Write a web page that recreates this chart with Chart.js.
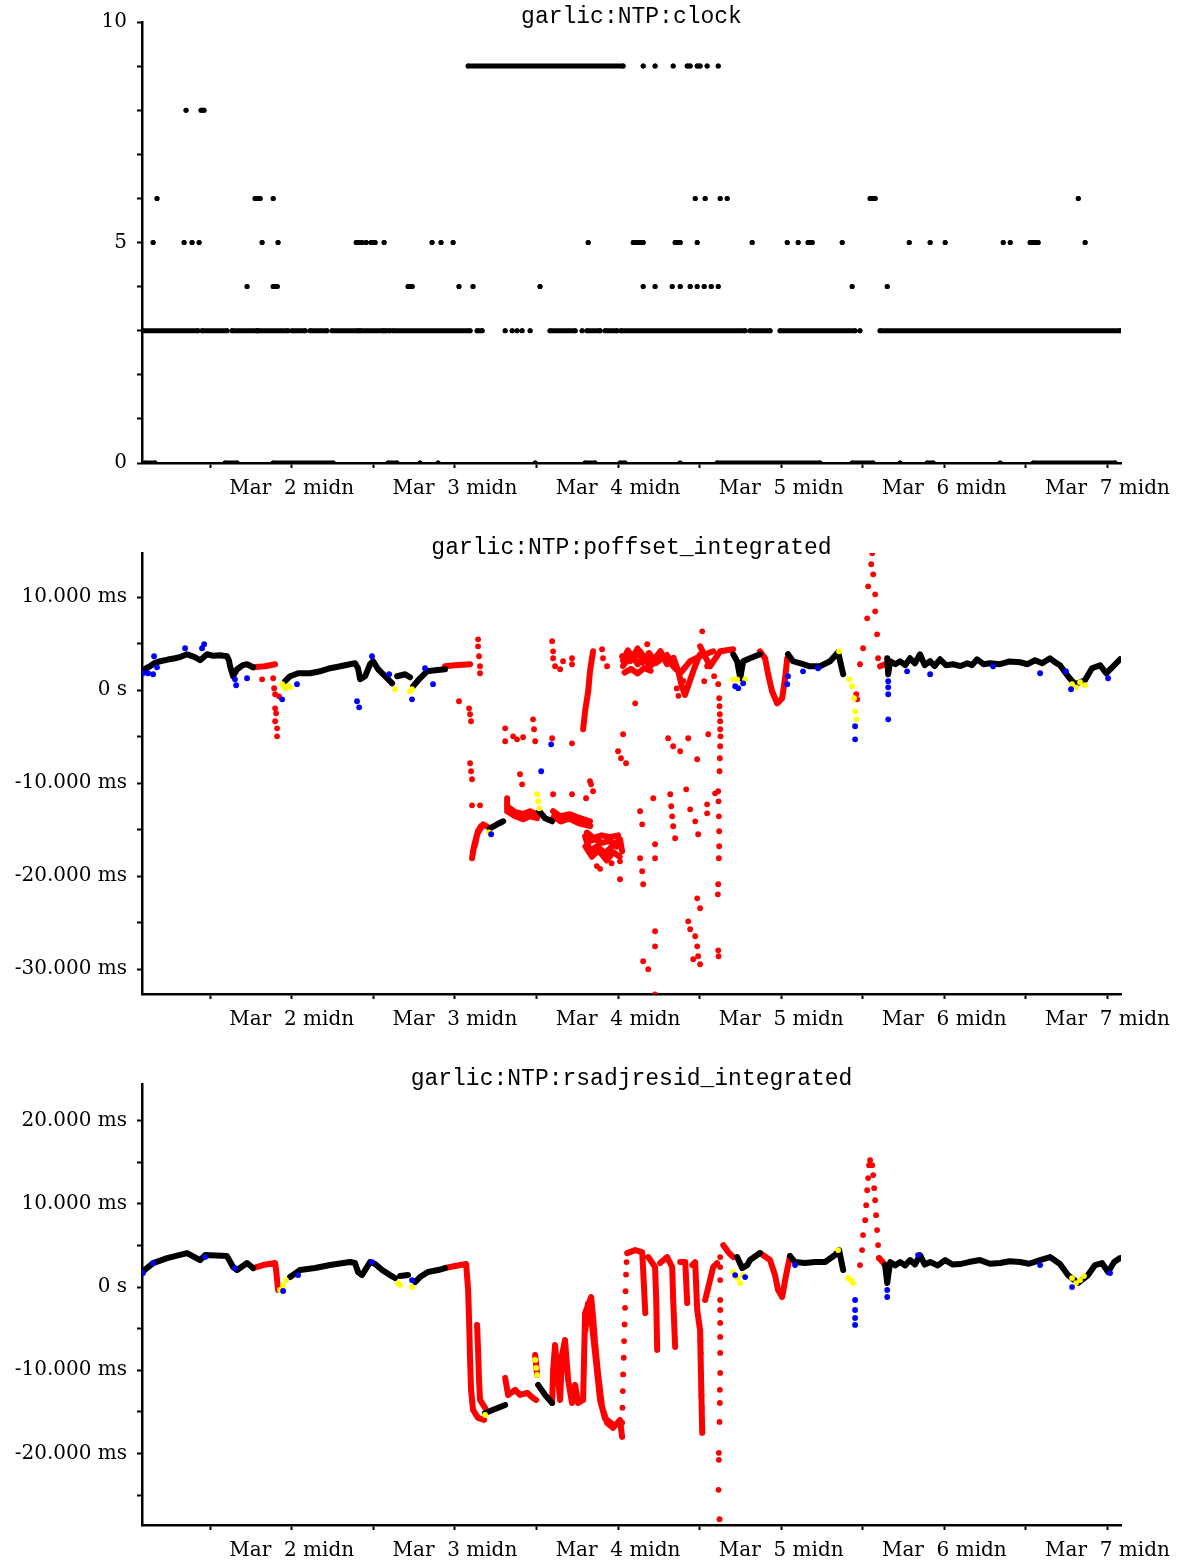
<!DOCTYPE html>
<html>
<head>
<meta charset="utf-8">
<script src="https://cdn.jsdelivr.net/npm/chart.js@4.4.1/dist/chart.umd.min.js"></script>
<style>
  body { margin: 0; background: #fff; }
  .panel { position: absolute; left: 0; width: 1187px; height: 531px; }
</style>
</head>
<body>
<div class="panel" style="top:0"><canvas id="clock" width="1187" height="531"></canvas></div>
<div class="panel" style="top:531px"><canvas id="poffset" width="1187" height="531"></canvas></div>
<div class="panel" style="top:1062px"><canvas id="resid" width="1187" height="531"></canvas></div>
<script>
// x is days since Mar 1 00:00
const xMin = 0.082, xMax = 6.083;
const xTicks = [0.5, 1, 1.5, 2, 2.5, 3, 3.5, 4, 4.5, 5, 5.5, 6];
const xTickLabels = ['', 'Mar  2 midn', '', 'Mar  3 midn', '', 'Mar  4 midn', '', 'Mar  5 midn', '', 'Mar  6 midn', '', 'Mar  7 midn'];

// ---- garlic:NTP:clock ----  entries are a single time or a [start, end] run
const clockTicks = [0, 1, 2, 3, 4, 5, 6, 7, 8, 9, 10];
const clockTickLabels = ['0', '', '', '', '', '5', '', '', '', '', '10'];
const clock0 = [[0.101, 0.162], [0.591, 0.665], [0.886, 1.254], [1.590, 1.645], 1.786, 1.897, 2.492, [2.798, 2.859], [3.012, 3.043], 3.380, [3.607, 4.238], [4.435, 4.563], 4.729, [4.895, 4.932], 5.342, [5.545, 6.047]];
const clock3 = [[0.082, 0.425], [0.450, 0.603], [0.634, 0.787], [0.793, 0.977], [1.002, 1.082], [1.112, 1.216], [1.247, 1.406], [1.419, 1.560], [1.572, 1.602], [1.621, 2.093], [2.136, 2.167], 2.308, 2.351, 2.381, 2.412, 2.461, [2.583, 2.737], 2.780, [2.810, 2.890], [2.921, 2.994], [3.018, 3.779], [3.809, 3.932], [3.993, 4.453], 4.483, [4.606, 6.077]];
const clock4 = [0.726, [0.886, 0.911], [1.713, 1.738], 2.025, 2.111, 2.522, 3.154, 3.227, 3.332, 3.381, 3.442, 3.485, 3.528, 3.571, 3.614, 4.435, 4.650];
const clock5 = [0.150, 0.340, 0.389, 0.432, 0.818, 0.916, [1.395, 1.431], 1.456, [1.486, 1.511], 1.566, 1.860, 1.915, 1.989, 2.817, [3.093, 3.154], [3.350, 3.381], 3.485, 3.822, 4.037, 4.104, [4.165, 4.190], 4.374, 4.785, 4.913, 5.005, 5.361, 5.404, [5.526, 5.575], 5.863];
const clock6 = [0.174, [0.775, 0.806], 0.886, 3.473, 3.534, 3.626, 3.669, [4.545, 4.576], 5.821];
const clock8 = [0.352, [0.444, 0.462]];
const clock9 = [[2.081, 3.031], 3.154, 3.227, 3.338, [3.424, 3.442], [3.485, 3.503], 3.546, 3.614];

// ---- garlic:NTP:poffset_integrated (ms) ----
const poffTicks = [-30, -25, -20, -15, -10, -5, 0, 5, 10];
const poffTickLabels = ['-30.000 ms', '', '-20.000 ms', '', '-10.000 ms', '', '0 s', '', '10.000 ms'];
const poffBlack = [
  [[0.082, 2.04], [0.110, 2.40], [0.131, 2.58], [0.160, 2.95], [0.193, 3.12], [0.240, 3.30], [0.285, 3.44], [0.320, 3.60], [0.358, 3.87], [0.385, 3.70], [0.407, 3.55], [0.438, 3.23], [0.481, 3.87], [0.520, 3.70], [0.560, 3.76], [0.603, 3.66], [0.615, 3.20], [0.622, 2.58], [0.640, 1.51], [0.665, 2.26], [0.700, 2.70], [0.726, 2.80], [0.763, 2.47]],
  [[0.959, 0.97], [0.990, 1.51], [1.039, 1.83], [1.112, 1.83], [1.173, 2.04], [1.235, 2.37], [1.290, 2.55], [1.327, 2.69], [1.388, 2.90], [1.406, 2.37], [1.419, 1.18], [1.450, 1.51], [1.480, 2.80], [1.499, 3.12], [1.529, 2.26], [1.572, 1.51], [1.615, 0.75]],
  [[1.646, 1.51], [1.695, 1.72], [1.725, 1.40]],
  [[1.744, 0.43], [1.786, 1.29], [1.829, 2.04], [1.879, 2.15], [1.940, 2.26]],
  [[2.215, -14.84], [2.259, -14.41], [2.296, -14.09]],
  [[2.517, -13.01], [2.553, -13.76], [2.596, -14.09]],
  [[3.706, 3.87], [3.730, 3.12], [3.749, 1.29], [3.767, 3.12], [3.809, 3.44], [3.870, 3.87]],
  [[4.042, 3.87], [4.073, 3.12], [4.134, 2.80], [4.177, 2.58], [4.238, 2.58], [4.300, 3.12], [4.349, 4.09], [4.380, 1.72]],
  [[4.650, 3.44], [4.656, 1.72], [4.668, 3.12], [4.700, 2.80], [4.729, 3.12], [4.760, 2.70], [4.790, 3.44], [4.820, 2.90], [4.851, 3.87], [4.880, 2.70], [4.913, 3.12], [4.940, 2.60], [4.974, 3.33], [5.010, 2.70], [5.054, 2.80], [5.100, 2.60], [5.140, 2.90], [5.170, 2.70], [5.201, 3.33], [5.240, 2.80], [5.280, 2.90], [5.342, 2.80], [5.400, 3.10], [5.464, 3.01], [5.510, 2.80], [5.556, 3.23], [5.600, 2.90], [5.648, 3.44], [5.680, 3.00], [5.709, 2.69], [5.758, 1.51], [5.801, 0.65], [5.862, 1.08], [5.905, 2.37], [5.955, 2.69], [5.992, 1.83], [6.029, 2.47], [6.077, 3.33]]
];
const poffRed = [
  [[0.763, 2.47], [0.836, 2.58], [0.898, 2.80]],
  [[1.940, 2.58], [2.001, 2.69], [2.093, 2.80]],
  [[2.105, -18.06], [2.117, -16.77], [2.136, -15.48], [2.173, -14.41], [2.215, -14.84]],
  [[2.110, -17.3], [2.125, -16.5], [2.140, -15.2], [2.160, -14.6]],
  [[2.320, -11.61], [2.320, -13.01], [2.369, -13.55], [2.418, -13.87], [2.461, -13.55], [2.504, -13.76]],
  [[2.330, -12.6], [2.370, -13.1], [2.420, -13.3], [2.460, -13.0], [2.500, -13.3]],
  [[2.602, -13.01], [2.645, -13.55], [2.706, -13.33], [2.767, -13.76], [2.828, -14.09]],
  [[2.605, -13.6], [2.650, -14.1], [2.700, -13.8], [2.760, -14.3], [2.830, -14.6]],
  [[2.798, -15.70], [2.828, -17.31], [2.871, -16.77], [2.921, -17.53], [2.964, -16.77], [3.012, -16.02], [3.025, -17.31]],
  [[2.810, -16.3], [2.860, -16.0], [2.900, -16.4], [2.950, -16.2], [2.990, -16.8]],
  [[2.800, -16.8], [2.840, -17.9], [2.880, -17.2], [2.930, -18.3], [2.970, -17.4], [3.010, -17.9]],
  [[2.810, -15.3], [2.850, -15.9], [2.900, -15.6], [2.950, -15.8], [3.000, -15.6]],
  [[3.025, 3.66], [3.074, 3.12], [3.135, 4.19], [3.196, 2.58], [3.258, 3.66], [3.338, 3.12]],
  [[3.030, 2.6], [3.080, 3.9], [3.120, 2.8], [3.170, 3.6], [3.230, 2.9], [3.300, 3.8], [3.338, 2.58], [3.381, 1.83], [3.442, 3.12], [3.503, 3.66], [3.583, 4.19]],
  [[3.030, 3.2], [3.060, 4.3], [3.090, 3.5], [3.120, 4.5], [3.150, 3.0], [3.190, 4.0], [3.220, 3.3], [3.260, 4.2], [3.300, 2.8]],
  [[3.040, 1.9], [3.080, 2.3], [3.120, 1.8], [3.160, 2.4], [3.200, 2.1]],
  [[3.340, 3.5], [3.370, 2.0], [3.390, 0.5], [3.410, -0.5], [3.440, 1.0], [3.470, 2.5], [3.500, 3.8]],
  [[3.503, 4.73], [3.564, 2.58], [3.626, 4.19], [3.706, 4.41]],
  [[3.870, 4.19], [3.901, 3.44], [3.920, 1.72], [3.944, -0.11], [3.975, -1.40], [4.006, -0.86], [4.024, 1.29], [4.037, 3.44]],
  [[2.847, 4.19], [2.828, 2.04], [2.817, -0.11], [2.798, -2.26], [2.786, -4.19]],
  [[4.606, 2.58], [4.637, 2.80]]
];
const poffRedDots = [
  [0.818, 1.18], [0.886, 1.29], [0.892, 0.22], [0.898, -0.43], [0.922, -0.65], [0.898, -1.94], [0.904, -2.47], [0.898, -3.33], [0.910, -4.09], [0.910, -4.95],
  [2.025, -1.18], [2.087, -1.94], [2.093, -2.58], [2.099, -3.33], [2.142, 5.48], [2.142, 4.73], [2.148, 3.66], [2.154, 2.58], [2.154, 1.83],
  [2.093, -7.85], [2.099, -8.71], [2.105, -9.57], [2.105, -12.37], [2.154, -12.37],
  [2.308, -4.09], [2.308, -5.48], [2.357, -4.95], [2.381, -5.27], [2.418, -5.05], [2.479, -3.12], [2.485, -4.19], [2.492, -5.48], [2.596, -5.16], [2.718, -5.70],
  [2.399, -9.03], [2.412, -10.11], [2.602, -11.18], [2.718, -11.18], [2.804, -11.61], [2.835, -10.11],
  [2.596, 5.27], [2.602, 4.19], [2.602, 3.44], [2.614, 2.58], [2.645, 2.26], [2.663, 3.12], [2.718, 3.44], [2.718, 2.80], [2.902, 4.41], [2.908, 3.44], [2.933, 2.58],
  [2.828, -9.78], [2.847, -10.86], [3.000, -6.56], [3.018, -7.31], [3.049, -7.85], [3.031, -4.73], [3.105, -1.40],
  [2.870, -18.9], [2.890, -19.2], [2.960, -18.6],
  [3.006, -16.56], [3.012, -18.39], [3.012, -20.32], [3.135, -13.01], [3.148, -14.41], [3.135, -18.06], [3.148, -19.46], [3.154, -20.86],
  [3.216, -11.61], [3.227, -16.56], [3.227, -18.06], [3.154, -29.14], [3.185, -30.0], [3.227, -25.91], [3.227, -27.53], [3.227, -32.69],
  [3.307, -5.16], [3.338, -6.02], [3.381, -6.56], [3.430, -5.16], [3.485, -7.42], [3.553, -4.73], [3.418, -10.65], [3.442, -12.80], [3.546, -12.26], [3.546, -13.23], [3.595, -11.08],
  [3.320, -11.18], [3.326, -12.47], [3.332, -13.55], [3.338, -14.62], [3.350, -15.91], [3.473, -14.09], [3.491, -15.48],
  [3.485, -22.37], [3.503, -23.44], [3.430, -24.84], [3.442, -25.70], [3.473, -26.45], [3.485, -27.53], [3.491, -28.60], [3.503, -29.46], [3.461, -28.92],
  [3.620, -0.86], [3.622, -1.72], [3.624, -2.58], [3.626, -3.33], [3.626, -4.19], [3.628, -4.95], [3.626, -6.02], [3.624, -7.31], [3.622, -8.71], [3.614, -10.86], [3.616, -11.94], [3.618, -13.55], [3.620, -15.16], [3.620, -16.77], [3.618, -18.06], [3.614, -20.86], [3.612, -21.94], [3.614, -27.96], [3.616, -28.6],
  [3.516, 6.34], [3.179, 4.95], [3.546, 2.58], [3.589, 1.51], [3.614, 0.65], [3.528, 0.97], [3.360, 0.2], [3.370, -0.6], [3.400, 1.0], [3.430, 0.5],
  [4.483, 2.80], [4.502, 4.52], [4.527, 7.74], [4.533, 11.18], [4.552, 13.55], [4.558, 14.73], [4.564, 12.47], [4.576, 10.32], [4.576, 8.49], [4.588, 6.02], [4.594, 3.44],
  [4.460, -0.43], [4.466, -0.97]
];
const poffYellowDots = [
  [0.941, 0.65], [0.959, 0.22], [0.977, 0.43], [0.990, 0.32], [1.633, 0.11], [1.725, -0.11], [1.737, 0.11],
  [2.504, -11.18], [2.510, -11.94], [2.517, -12.69], [2.209, -15.27],
  [3.706, 1.18], [3.730, 1.18], [3.779, 1.18], [4.355, 4.19],
  [4.417, 1.18], [4.435, 0.43], [4.447, -0.86], [4.453, -2.26], [4.460, -3.12],
  [5.783, 0.65], [5.807, 0.32], [5.832, 0.86], [5.862, 0.54]
];
const poffBlueDots = [
  [0.088, 1.83], [0.119, 1.83], [0.150, 1.72], [0.156, 3.66], [0.174, 2.47], [0.346, 4.52], [0.450, 4.52], [0.463, 4.95], [0.652, 1.18], [0.659, 0.54], [0.726, 1.29],
  [0.941, -0.97], [1.032, 0.65], [1.400, -1.18], [1.413, -1.83], [1.492, 3.66], [1.597, 1.72], [1.737, -0.97], [1.817, 2.37], [1.866, 0.65],
  [2.222, -15.48], [2.529, -8.71], [2.590, -5.81], [3.718, 0.43], [3.737, 0.22], [3.767, 0.75], [4.037, 0.65], [4.042, 1.51], [4.134, 2.04], [4.226, 2.37],
  [4.453, -3.87], [4.453, -5.27], [4.656, 0.97], [4.656, 0.32], [4.656, -0.43], [4.656, -3.12], [4.772, 2.04], [4.913, 1.72], [5.299, 2.58], [5.587, 1.83], [5.746, 2.04], [5.777, 0.11], [6.004, 1.29]
];

// ---- garlic:NTP:rsadjresid_integrated (ms) ----
const residTicks = [-25, -20, -15, -10, -5, 0, 5, 10, 15, 20];
const residTickLabels = ['', '-20.000 ms', '', '-10.000 ms', '', '0 s', '', '10.000 ms', '', '20.000 ms'];
const residBlack = [
  [[0.082, 1.80], [0.150, 2.88], [0.236, 3.48], [0.358, 4.08], [0.438, 3.24], [0.469, 3.84], [0.603, 3.72], [0.640, 2.40], [0.665, 2.04], [0.726, 2.88], [0.763, 2.28]],
  [[0.990, 1.20], [1.051, 2.04], [1.143, 2.28], [1.235, 2.64], [1.357, 3.00], [1.388, 2.88], [1.406, 1.80], [1.431, 1.44], [1.480, 3.00], [1.511, 2.76], [1.554, 2.04], [1.602, 1.44], [1.633, 1.08]],
  [[1.664, 1.32], [1.713, 1.44]],
  [[1.756, 0.60], [1.786, 1.20], [1.835, 1.80], [1.897, 2.04], [1.940, 2.28]],
  [[2.185, -15.13], [2.246, -14.65], [2.308, -14.17]],
  [[2.510, -11.76], [2.553, -12.97], [2.596, -13.93]],
  [[3.730, 3.60], [3.761, 2.28], [3.792, 2.64], [3.809, 3.24], [3.870, 4.08]],
  [[4.054, 3.72], [4.085, 3.00], [4.146, 2.88], [4.208, 3.00], [4.269, 3.00], [4.330, 3.84], [4.355, 4.44], [4.380, 2.04]],
  [[4.637, 2.64], [4.650, 0.48], [4.668, 3.00], [4.700, 2.60], [4.729, 3.00], [4.760, 2.60], [4.790, 3.24], [4.820, 2.70], [4.851, 3.84], [4.880, 2.70], [4.913, 3.00], [4.960, 2.60], [5.005, 3.24], [5.050, 2.70], [5.096, 2.76], [5.150, 3.00], [5.219, 3.24], [5.280, 2.80], [5.342, 2.88], [5.400, 3.10], [5.464, 3.00], [5.520, 2.80], [5.587, 3.24], [5.648, 3.60], [5.709, 2.76], [5.758, 1.44], [5.820, 0.48], [5.881, 1.44], [5.924, 2.64], [5.967, 2.88], [6.004, 1.80], [6.041, 3.00], [6.077, 3.48]]
];
const residRed = [
  [[0.763, 2.28], [0.824, 2.64], [0.898, 2.88], [0.904, 2.04], [0.910, 0.84], [0.916, -0.36]],
  [[1.940, 2.28], [2.001, 2.52], [2.069, 2.76], [2.081, -0.36], [2.087, -3.96], [2.093, -8.76], [2.099, -12.36], [2.111, -14.77], [2.142, -15.73], [2.179, -15.97]],
  [[2.136, -4.56], [2.142, -7.56], [2.148, -11.16], [2.154, -13.57], [2.185, -14.53]],
  [[2.308, -10.92], [2.326, -12.97], [2.369, -12.36], [2.399, -12.97], [2.443, -12.72], [2.479, -13.33], [2.498, -13.57]],
  [[2.492, -8.16], [2.504, -10.56]],
  [[2.596, -13.93], [2.602, -9.96], [2.614, -6.96], [2.633, -11.16], [2.645, -13.57], [2.657, -8.16], [2.675, -6.36], [2.694, -11.16], [2.718, -13.93], [2.737, -11.76], [2.755, -13.93], [2.786, -13.57]],
  [[2.786, -13.57], [2.798, -3.12], [2.835, -1.20], [2.847, -3.60], [2.859, -6.72], [2.877, -10.32], [2.902, -14.41], [2.933, -16.33], [2.970, -16.93], [3.012, -15.97], [3.025, -18.01]],
  [[2.800, -5.2], [2.815, -2.0], [2.840, -4.5], [2.865, -9.0], [2.890, -13.6], [2.920, -15.8], [2.960, -16.4]],
  [[3.056, 4.08], [3.105, 4.44], [3.148, 4.20], [3.154, 2.04], [3.160, -0.36], [3.167, -3.12]],
  [[3.185, 3.60], [3.227, 2.40], [3.234, -1.56], [3.240, -7.56]],
  [[3.258, 2.88], [3.301, 3.60], [3.332, 2.40], [3.338, -1.56], [3.350, -7.20]],
  [[3.381, 3.00], [3.412, 3.00], [3.424, -1.92]],
  [[3.455, 2.64], [3.473, 3.00], [3.485, -2.76], [3.503, -5.16], [3.509, -11.16], [3.516, -17.53]],
  [[3.534, -1.56], [3.564, 0.84], [3.583, 2.40], [3.607, 2.88]],
  [[3.645, 5.04], [3.675, 4.20], [3.706, 3.60]],
  [[3.870, 4.08], [3.932, 3.24], [3.962, 1.44], [3.981, -0.36], [4.006, -1.20], [4.030, 1.44], [4.054, 3.72]],
  [[4.600, 3.48], [4.637, 2.64]]
];
const residRedDots = [
  [3.025, -16.3], [3.027, -14.5], [3.029, -12.5], [3.031, -10.5], [3.035, -8.5], [3.037, -6.5], [3.040, -4.5], [3.043, -2.5], [3.046, -0.5], [3.049, 1.5], [3.052, 3.0],
  [3.626, 3.60], [3.626, 2.40], [3.626, 0.84], [3.626, -1.56], [3.626, -2.76], [3.626, -4.32], [3.626, -6.00], [3.626, -7.92], [3.626, -10.32], [3.624, -12.36], [3.624, -13.93], [3.622, -16.21], [3.618, -19.93], [3.618, -20.77], [3.616, -24.37], [3.622, -27.9],
  [3.505, -6.5], [3.507, -8.0], [3.511, -13.0], [3.513, -14.5], [3.514, -16.0],
  [4.483, 2.64], [4.496, 4.44], [4.502, 6.24], [4.515, 8.04], [4.521, 9.84], [4.527, 11.64], [4.533, 13.09], [4.539, 14.65], [4.545, 15.25],
  [4.558, 14.65], [4.564, 13.45], [4.570, 11.88], [4.576, 10.44], [4.582, 8.64], [4.588, 6.84], [4.594, 5.04], [4.600, 3.48]
];
const residYellowDots = [
  [0.928, -0.36], [0.947, 0.24], [0.965, 0.84], [1.652, 0.48], [1.664, 0.24], [1.737, 0.0], [2.185, -15.37],
  [2.492, -8.76], [2.498, -9.72], [2.504, -10.56], [3.706, 1.80], [3.730, 1.08], [3.749, 0.48], [3.767, 1.44],
  [4.349, 4.44], [4.411, 1.08], [4.429, 0.84], [4.441, 0.48], [5.783, 1.08], [5.807, 0.48], [5.832, 0.84], [5.856, 1.32]
];
const residBlueDots = [
  [0.088, 1.68], [0.150, 2.88], [0.469, 3.60], [0.652, 2.28], [0.947, -0.48], [1.039, 1.44], [1.492, 3.00], [1.737, 0.84],
  [3.718, 1.44], [3.779, 1.20], [4.085, 2.64], [4.453, -1.56], [4.453, -2.76], [4.453, -3.72], [4.453, -4.56],
  [4.650, -0.36], [4.650, -1.20], [4.839, 3.84], [5.587, 2.64], [5.783, 0.0], [6.016, 1.68]
];

Chart.defaults.font.family = '"DejaVu Serif", serif';
Chart.defaults.font.size = 20;
Chart.defaults.color = '#000';

// title in typewriter font sitting on the top of the plot box
const plotTitle = {
  id: 'plotTitle',
  afterDraw(chart, args, opts) {
    const { ctx, chartArea } = chart;
    ctx.save();
    ctx.font = '23px "Liberation Mono", monospace';
    ctx.fillStyle = '#000';
    ctx.textAlign = 'center';
    ctx.textBaseline = 'alphabetic';
    ctx.fillText(opts.text, (chartArea.left + chartArea.right) / 2, chartArea.top + 1);
    ctx.restore();
  }
};

function pts(list) {
  return list.map(p => ({ x: p[0], y: p[1] }));
}
// polylines joined by a gap point (y: null)
function joinLines(lines) {
  const out = [];
  lines.forEach(l => {
    l.forEach(p => out.push({ x: p[0], y: p[1] }));
    out.push({ x: l[l.length - 1][0], y: null });
  });
  return out;
}
function clockData(levels) {
  const out = [];
  levels.forEach(([v, list]) => {
    list.forEach(e => {
      if (Array.isArray(e)) {
        out.push({ x: e[0], y: v }, { x: e[1], y: v }, { x: e[1], y: null });
      } else {
        out.push({ x: e, y: v }, { x: e, y: null });
      }
    });
  });
  return out;
}

function traceSet(lines, color, order, width) {
  return {
    data: joinLines(lines), showLine: true, borderColor: color, backgroundColor: color,
    borderWidth: width, borderCapStyle: 'round', borderJoinStyle: 'round',
    pointRadius: 0, spanGaps: false, order
  };
}
function dotSet(list, color, order) {
  return {
    data: pts(list), showLine: false, backgroundColor: color, borderWidth: 0,
    pointRadius: 2.9, pointBorderWidth: 0, order
  };
}

function scales(yMin, yMax, yTicks, yLabels) {
  return {
    x: {
      type: 'linear', min: xMin, max: xMax,
      border: { color: '#000', width: 2.5 },
      grid: { drawOnChartArea: false, tickLength: 5, tickColor: '#000', tickWidth: 2 },
      ticks: { padding: 9, maxRotation: 0, autoSkip: false, callback: (v, i) => xTickLabels[i] },
      afterBuildTicks: s => { s.ticks = xTicks.map(v => ({ value: v })); },
      afterFit: s => { s.height = 68; }
    },
    y: {
      type: 'linear', min: yMin, max: yMax,
      border: { color: '#000', width: 2.5 },
      grid: { drawOnChartArea: false, tickLength: 5, tickColor: '#000', tickWidth: 2 },
      ticks: { padding: 10, autoSkip: false, callback: (v, i) => yLabels[i] },
      afterBuildTicks: s => { s.ticks = yTicks.map(v => ({ value: v })); },
      afterFit: s => { s.width = 142; }
    }
  };
}

function options(title, sc) {
  return {
    responsive: false, animation: false, events: [],
    layout: { padding: { top: 22, right: 66, bottom: 0, left: 0 } },
    plugins: { legend: { display: false }, tooltip: { enabled: false }, plotTitle: { text: title } },
    scales: sc
  };
}

new Chart(document.getElementById('clock'), {
  type: 'scatter',
  data: {
    datasets: [{
      data: clockData([[0, clock0], [3, clock3], [4, clock4], [5, clock5], [6, clock6], [8, clock8], [9, clock9]]),
      showLine: true, borderColor: '#000', backgroundColor: '#000', borderWidth: 5,
      borderCapStyle: 'round', pointRadius: 2.5, pointBorderWidth: 0, spanGaps: false, clip: 0
    }]
  },
  options: options('garlic:NTP:clock', scales(0, 10, clockTicks, clockTickLabels)),
  plugins: [plotTitle]
});

new Chart(document.getElementById('poffset'), {
  type: 'scatter',
  data: {
    datasets: [
      traceSet(poffRed, '#ff0000', 6, 6),
      dotSet(poffRedDots, '#ff0000', 5),
      traceSet(poffBlack, '#000000', 4, 6),
      dotSet(poffYellowDots, '#ffff00', 2),
      dotSet(poffBlueDots, '#0000ff', 1)
    ]
  },
  options: options('garlic:NTP:poffset_integrated', scales(-32.66, 14.76, poffTicks, poffTickLabels)),
  plugins: [plotTitle]
});

new Chart(document.getElementById('resid'), {
  type: 'scatter',
  data: {
    datasets: [
      traceSet(residRed, '#ff0000', 6, 6),
      dotSet(residRedDots, '#ff0000', 5),
      traceSet(residBlack, '#000000', 4, 6),
      dotSet(residYellowDots, '#ffff00', 2),
      dotSet(residBlueDots, '#0000ff', 1)
    ]
  },
  options: options('garlic:NTP:rsadjresid_integrated', scales(-28.6, 24.4, residTicks, residTickLabels)),
  plugins: [plotTitle]
});
</script>
</body>
</html>
